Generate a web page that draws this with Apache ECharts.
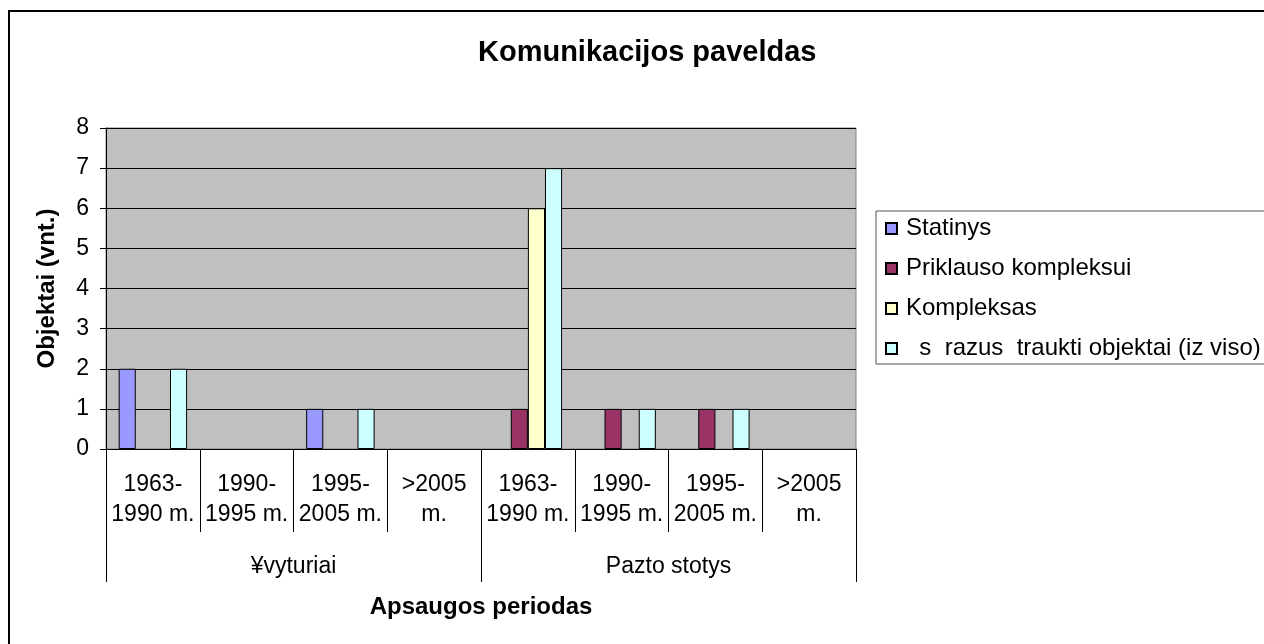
<!DOCTYPE html>
<html>
<head>
<meta charset="utf-8">
<title>Komunikacijos paveldas</title>
<script src="https://cdn.jsdelivr.net/npm/echarts@6/dist/echarts.min.js"></script>
<style>
  html, body { margin: 0; padding: 0; background: #fff; }
  #myChart { width: 1264px; height: 644px; }
</style>
</head>
<body>
<div id="myChart"></div>
<script>
  // periodai (pirmas lygis) ir grupes (antras lygis)
  var periods = ['1963-\n1990 m.', '1990-\n1995 m.', '1995-\n2005 m.', '>2005\nm.',
                 '1963-\n1990 m.', '1990-\n1995 m.', '1995-\n2005 m.', '>2005\nm.'];
  var groups = ['¥vyturiai', 'Pazto stotys'];
  var yTicks = [0, 1, 2, 3, 4, 5, 6, 7, 8];

  var seriesNames = ['Statinys', 'Priklauso kompleksui', 'Kompleksas', '  s  razus  traukti objektai (iz viso)'];
  var statinys = [2, null, 1, null, null, null, null, null];
  var priklauso = [null, null, null, null, 1, 1, 1, null];
  var kompleksas = [null, null, null, null, 6, null, null, null];
  var israsyti = [2, null, 1, null, 7, 1, 1, null];

  var colors = ['#9999FF', '#993366', '#FFFFCC', '#CCFFFF'];
  var font = 'Liberation Sans, Arial, sans-serif';

  var myChart = echarts.init(document.getElementById('myChart'));

  function bar(name, data, color) {
    return {
      name: name,
      type: 'bar',
      data: data,
      barGap: '0%',
      barCategoryGap: '27%',
      itemStyle: { color: color, borderColor: '#000', borderWidth: 1 }
    };
  }

  myChart.setOption({
    animation: false,
    textStyle: { fontFamily: font, color: '#000' },
    title: {
      text: 'Komunikacijos paveldas',
      left: 473,
      top: 33,
      textStyle: { fontFamily: font, fontSize: 29, fontWeight: 'bold', color: '#000' }
    },
    graphic: [{
      type: 'rect',
      shape: { x: 9, y: 11, width: 1400, height: 800 },
      style: { fill: 'none', stroke: '#000', lineWidth: 2 },
      z: 100
    }],
    legend: {
      orient: 'vertical',
      left: 876,
      top: 211,
      padding: [4, 60, 2, 9],
      itemGap: 13,
      itemWidth: 11,
      itemHeight: 11,
      icon: 'rect',
      borderColor: '#555',
      borderWidth: 1,
      textStyle: { fontFamily: font, fontSize: 24, lineHeight: 27, color: '#000', padding: [0, 0, 0, 4] },
      data: seriesNames
    },
    grid: {
      left: 106,
      right: 408,
      top: 128,
      bottom: 195,
      show: true,
      backgroundColor: '#C0C0C0',
      borderColor: '#808080',
      borderWidth: 1
    },
    xAxis: [
      {
        type: 'category',
        data: periods,
        axisLine: { show: true, lineStyle: { color: '#000', width: 1 } },
        axisTick: { show: true, length: 83, interval: 0, alignWithLabel: false, lineStyle: { color: '#000', width: 1 } },
        axisLabel: { interval: 0, margin: 21, fontSize: 23, lineHeight: 30, color: '#000', fontFamily: font },
        name: 'Apsaugos periodas',
        nameLocation: 'middle',
        nameGap: 146,
        nameTextStyle: { fontFamily: font, fontSize: 24, fontWeight: 'bold', color: '#000' }
      },
      {
        type: 'category',
        position: 'bottom',
        data: groups,
        axisLine: { show: false },
        axisTick: { show: true, length: 133, interval: 0, alignWithLabel: false, lineStyle: { color: '#000', width: 1 } },
        axisLabel: { interval: 0, margin: 103, fontSize: 23, lineHeight: 30, color: '#000', fontFamily: font }
      }
    ],
    yAxis: {
      type: 'value',
      min: yTicks[0],
      max: yTicks[yTicks.length - 1],
      interval: 1,
      axisLine: { show: true, lineStyle: { color: '#000' } },
      axisTick: { show: true, length: 6, lineStyle: { color: '#000', width: 1 } },
      axisLabel: { margin: 17, fontSize: 23, color: '#000', fontFamily: font },
      splitLine: { lineStyle: { color: '#000', width: 1 } },
      name: 'Objektai (vnt.)',
      nameLocation: 'middle',
      nameGap: 47,
      nameTextStyle: { fontFamily: font, fontSize: 24, fontWeight: 'bold', color: '#000' }
    },
    series: [
      bar(seriesNames[0], statinys, colors[0]),
      bar(seriesNames[1], priklauso, colors[1]),
      bar(seriesNames[2], kompleksas, colors[2]),
      bar(seriesNames[3], israsyti, colors[3])
    ]
  });
</script>
</body>
</html>
